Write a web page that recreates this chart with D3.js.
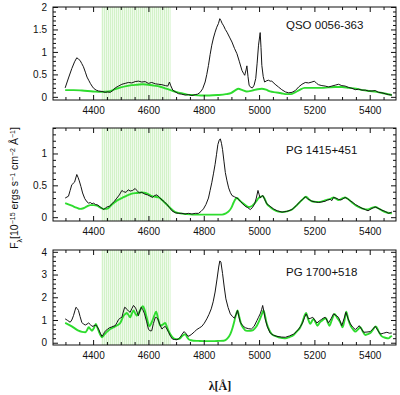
<!DOCTYPE html>
<html>
<head>
<meta charset="utf-8">
<script src="https://cdn.jsdelivr.net/npm/d3@7"></script>
<style>
  body { margin: 0; background: #fff; }
  text { font-family: "Liberation Sans", Arial, sans-serif; fill: #111; }
</style>
</head>
<body>
<svg id="chart" width="400" height="395"></svg>
<script>
// wavelength range of the Fe II fitting window (shaded)
const fitWindow = [4430, 4680];
const waveDomain = [4255, 5495];
const waveTicks = [4400, 4600, 4800, 5000, 5200, 5400];

const names = ["QSO 0056-363", "PG 1415+451", "PG 1700+518"];
const yDomains = [[-0.07, 2.0], [-0.06, 1.40], [-0.1, 4.08]];
const yTicks = [[0, 0.5, 1, 1.5, 2], [0, 0.5, 1], [0, 1, 2, 3, 4]];
const yMinorSteps = [0.1, 0.1, 0.2];

// observed spectra [wavelength, flux]
const qsoObs = [[4299,0.20],[4311,0.42],[4323,0.63],[4333,0.78],[4341,0.87],[4347,0.84],[4353,0.81],[4359,0.74],[4365,0.67],[4372,0.55],[4378,0.44],[4384,0.37],[4390,0.30],[4396,0.24],[4402,0.19],[4411,0.15],[4420,0.13],[4432,0.12],[4444,0.10],[4453,0.11],[4462,0.10],[4471,0.14],[4480,0.20],[4492,0.24],[4504,0.28],[4516,0.30],[4528,0.32],[4540,0.31],[4552,0.34],[4564,0.35],[4576,0.33],[4588,0.34],[4600,0.30],[4612,0.32],[4625,0.29],[4637,0.28],[4649,0.27],[4661,0.25],[4670,0.24],[4676,0.33],[4680,0.26],[4688,0.15],[4700,0.10],[4709,0.07],[4720,0.06],[4733,0.04],[4745,0.05],[4757,0.03],[4769,0.05],[4778,0.06],[4787,0.10],[4796,0.18],[4805,0.33],[4811,0.50],[4817,0.70],[4823,0.94],[4829,1.15],[4835,1.31],[4841,1.44],[4847,1.55],[4853,1.63],[4858,1.74],[4862,1.70],[4866,1.64],[4872,1.58],[4878,1.50],[4884,1.44],[4893,1.33],[4902,1.22],[4911,1.08],[4920,0.96],[4929,0.78],[4938,0.59],[4944,0.52],[4948,0.48],[4953,0.60],[4956,0.69],[4960,0.45],[4964,0.26],[4970,0.21],[4976,0.20],[4982,0.26],[4988,0.41],[4993,0.75],[4998,1.15],[5004,1.43],[5007,1.10],[5010,0.70],[5015,0.45],[5020,0.33],[5028,0.36],[5034,0.37],[5040,0.35],[5046,0.35],[5058,0.28],[5070,0.22],[5082,0.16],[5095,0.11],[5107,0.09],[5119,0.10],[5131,0.14],[5143,0.22],[5155,0.28],[5167,0.32],[5179,0.31],[5191,0.33],[5200,0.35],[5208,0.30],[5215,0.27],[5227,0.25],[5239,0.24],[5251,0.22],[5263,0.24],[5275,0.26],[5287,0.28],[5299,0.25],[5311,0.24],[5323,0.21],[5336,0.19],[5348,0.16],[5360,0.17],[5372,0.15],[5384,0.15],[5396,0.13],[5408,0.13],[5420,0.14],[5432,0.10],[5444,0.09],[5456,0.07],[5468,0.05],[5480,0.04]];
const pg1415Obs = [[4299,0.30],[4311,0.33],[4317,0.42],[4323,0.51],[4333,0.55],[4341,0.67],[4346,0.62],[4350,0.57],[4356,0.48],[4362,0.38],[4370,0.29],[4378,0.24],[4384,0.22],[4390,0.23],[4396,0.21],[4402,0.22],[4408,0.20],[4417,0.19],[4426,0.16],[4432,0.14],[4438,0.12],[4444,0.14],[4450,0.16],[4459,0.17],[4468,0.21],[4477,0.25],[4486,0.30],[4495,0.35],[4504,0.42],[4510,0.40],[4519,0.39],[4527,0.43],[4534,0.41],[4543,0.42],[4552,0.45],[4558,0.42],[4567,0.38],[4576,0.39],[4588,0.36],[4597,0.35],[4606,0.33],[4615,0.31],[4622,0.34],[4631,0.35],[4640,0.31],[4649,0.27],[4658,0.24],[4667,0.20],[4676,0.15],[4685,0.10],[4697,0.07],[4709,0.06],[4721,0.06],[4733,0.05],[4745,0.06],[4757,0.05],[4769,0.06],[4781,0.06],[4790,0.09],[4799,0.13],[4808,0.20],[4817,0.30],[4823,0.42],[4829,0.54],[4835,0.68],[4841,0.83],[4846,0.98],[4851,1.14],[4856,1.21],[4860,1.23],[4864,1.16],[4868,1.06],[4873,0.88],[4878,0.70],[4884,0.57],[4890,0.46],[4896,0.39],[4902,0.34],[4911,0.32],[4920,0.30],[4926,0.28],[4932,0.25],[4941,0.21],[4950,0.17],[4959,0.15],[4968,0.12],[4976,0.15],[4984,0.21],[4990,0.30],[4996,0.42],[5000,0.36],[5004,0.30],[5009,0.33],[5014,0.34],[5020,0.28],[5028,0.21],[5040,0.17],[5052,0.13],[5066,0.10],[5083,0.08],[5100,0.09],[5119,0.12],[5134,0.18],[5149,0.25],[5158,0.28],[5167,0.32],[5175,0.29],[5184,0.27],[5191,0.25],[5203,0.24],[5215,0.23],[5227,0.24],[5239,0.25],[5248,0.27],[5257,0.28],[5263,0.26],[5269,0.31],[5278,0.30],[5287,0.28],[5296,0.27],[5304,0.29],[5311,0.31],[5320,0.29],[5328,0.26],[5336,0.24],[5348,0.20],[5360,0.17],[5372,0.14],[5384,0.12],[5394,0.10],[5405,0.13],[5414,0.15],[5420,0.16],[5430,0.14],[5444,0.11],[5456,0.09],[5468,0.06],[5480,0.08]];
const pg1700Obs = [[4299,1.05],[4308,0.98],[4317,0.90],[4323,1.00],[4329,1.19],[4334,1.40],[4338,1.56],[4343,1.50],[4347,1.42],[4353,1.15],[4359,0.90],[4365,0.82],[4372,0.78],[4378,0.82],[4384,0.87],[4390,0.80],[4396,0.72],[4403,0.74],[4410,0.78],[4415,0.70],[4420,0.60],[4426,0.42],[4432,0.28],[4437,0.36],[4441,0.46],[4447,0.55],[4453,0.60],[4459,0.66],[4465,0.68],[4472,0.72],[4480,0.75],[4486,0.88],[4492,1.02],[4498,1.08],[4504,1.12],[4509,1.35],[4514,1.56],[4519,1.52],[4523,1.46],[4529,1.38],[4534,1.34],[4540,1.50],[4546,1.64],[4551,1.57],[4555,1.49],[4560,1.32],[4564,1.19],[4569,1.40],[4574,1.56],[4580,1.45],[4586,1.27],[4593,0.95],[4600,0.60],[4606,0.52],[4612,0.53],[4618,0.85],[4625,1.12],[4630,1.10],[4634,1.05],[4641,0.80],[4649,0.60],[4655,0.68],[4661,0.72],[4667,0.60],[4673,0.46],[4680,0.28],[4687,0.16],[4695,0.14],[4703,0.13],[4709,0.18],[4715,0.24],[4722,0.38],[4729,0.49],[4736,0.40],[4743,0.28],[4750,0.32],[4757,0.38],[4766,0.48],[4775,0.58],[4784,0.65],[4793,0.72],[4802,0.86],[4811,1.05],[4819,1.25],[4827,1.49],[4834,1.80],[4841,2.23],[4848,2.80],[4854,3.33],[4858,3.60],[4862,3.55],[4868,3.04],[4874,2.45],[4880,1.93],[4888,1.55],[4896,1.27],[4904,1.15],[4911,1.08],[4917,1.25],[4922,1.42],[4927,1.15],[4932,0.90],[4941,0.75],[4950,0.66],[4961,0.62],[4972,0.60],[4982,0.72],[4992,0.97],[4998,1.12],[5004,1.27],[5009,1.45],[5013,1.64],[5017,1.40],[5022,1.05],[5030,0.70],[5040,0.43],[5052,0.33],[5064,0.28],[5080,0.25],[5095,0.24],[5110,0.30],[5125,0.38],[5134,0.48],[5143,0.60],[5150,0.72],[5157,0.87],[5164,1.10],[5170,1.27],[5175,1.15],[5179,1.05],[5187,1.08],[5194,1.12],[5201,1.00],[5209,0.87],[5217,0.95],[5225,1.02],[5232,1.08],[5239,1.12],[5245,1.00],[5251,0.87],[5260,1.05],[5269,1.27],[5278,1.20],[5287,1.12],[5293,0.95],[5299,0.75],[5307,1.05],[5314,1.34],[5322,1.05],[5330,0.83],[5339,0.68],[5348,0.58],[5355,0.66],[5362,0.75],[5370,0.60],[5378,0.46],[5390,0.47],[5402,0.49],[5411,0.60],[5420,0.72],[5429,0.55],[5438,0.38],[5450,0.42],[5462,0.46],[5471,0.42],[5480,0.43]];

// Fe II template fits [wavelength, flux]
const qsoFe = [[4299,0.15],[4330,0.15],[4360,0.14],[4400,0.12],[4430,0.11],[4455,0.12],[4480,0.17],[4500,0.21],[4520,0.24],[4540,0.26],[4560,0.27],[4580,0.28],[4600,0.27],[4620,0.25],[4640,0.23],[4660,0.19],[4680,0.15],[4700,0.11],[4720,0.08],[4740,0.05],[4760,0.04],[4790,0.03],[4820,0.03],[4850,0.04],[4880,0.06],[4900,0.09],[4915,0.15],[4925,0.18],[4940,0.15],[4955,0.12],[4975,0.14],[4995,0.17],[5010,0.18],[5025,0.16],[5040,0.12],[5060,0.10],[5080,0.08],[5100,0.06],[5115,0.06],[5130,0.10],[5145,0.15],[5165,0.20],[5185,0.20],[5200,0.20],[5225,0.20],[5250,0.21],[5275,0.22],[5300,0.22],[5325,0.20],[5350,0.18],[5375,0.15],[5400,0.13],[5425,0.11],[5450,0.08],[5480,0.04]];
const pg1415Fe = [[4299,0.22],[4323,0.18],[4340,0.15],[4353,0.13],[4365,0.14],[4378,0.17],[4390,0.19],[4402,0.19],[4414,0.18],[4426,0.15],[4438,0.13],[4450,0.13],[4468,0.20],[4486,0.26],[4504,0.30],[4522,0.34],[4540,0.37],[4558,0.38],[4576,0.39],[4590,0.38],[4600,0.36],[4613,0.33],[4625,0.32],[4637,0.31],[4649,0.27],[4661,0.22],[4673,0.17],[4685,0.12],[4697,0.08],[4715,0.06],[4733,0.05],[4760,0.04],[4790,0.04],[4829,0.04],[4866,0.04],[4880,0.06],[4890,0.09],[4900,0.15],[4908,0.23],[4914,0.28],[4920,0.30],[4928,0.27],[4938,0.23],[4950,0.19],[4962,0.16],[4972,0.17],[4980,0.20],[4990,0.25],[4998,0.30],[5006,0.32],[5013,0.33],[5020,0.29],[5028,0.21],[5040,0.16],[5052,0.12],[5066,0.09],[5083,0.08],[5100,0.09],[5119,0.12],[5137,0.19],[5155,0.27],[5170,0.32],[5180,0.28],[5191,0.25],[5206,0.24],[5221,0.24],[5236,0.26],[5251,0.28],[5260,0.29],[5269,0.31],[5278,0.29],[5287,0.27],[5299,0.29],[5311,0.31],[5323,0.28],[5336,0.23],[5351,0.18],[5366,0.15],[5378,0.13],[5390,0.12],[5405,0.14],[5420,0.16],[5435,0.13],[5450,0.09],[5465,0.07],[5480,0.06]];
const pg1700Fe = [[4299,0.87],[4311,0.80],[4323,0.72],[4335,0.62],[4347,0.53],[4360,0.48],[4372,0.46],[4378,0.55],[4384,0.68],[4390,0.60],[4396,0.53],[4403,0.65],[4410,0.83],[4416,0.65],[4422,0.46],[4427,0.33],[4432,0.24],[4439,0.33],[4446,0.43],[4454,0.52],[4462,0.60],[4471,0.66],[4480,0.72],[4489,0.78],[4498,0.87],[4504,1.02],[4510,1.19],[4516,1.26],[4522,1.31],[4528,1.22],[4534,1.12],[4540,1.28],[4546,1.42],[4552,1.30],[4558,1.19],[4564,1.30],[4570,1.42],[4575,1.55],[4580,1.61],[4586,1.45],[4592,1.19],[4598,0.90],[4604,0.72],[4611,0.88],[4619,1.12],[4624,1.28],[4628,1.37],[4635,1.05],[4643,0.75],[4652,0.80],[4661,0.87],[4668,0.65],[4675,0.46],[4683,0.30],[4691,0.19],[4700,0.16],[4709,0.16],[4715,0.20],[4721,0.28],[4727,0.34],[4733,0.38],[4739,0.26],[4745,0.16],[4754,0.11],[4763,0.09],[4780,0.08],[4800,0.07],[4829,0.07],[4855,0.08],[4872,0.09],[4885,0.18],[4896,0.38],[4904,0.65],[4911,0.97],[4917,1.25],[4922,1.42],[4928,1.15],[4935,0.83],[4943,0.65],[4952,0.53],[4963,0.52],[4974,0.53],[4984,0.62],[4992,0.75],[5000,0.95],[5008,1.19],[5016,1.42],[5022,1.15],[5028,0.83],[5037,0.55],[5046,0.38],[5058,0.30],[5070,0.24],[5083,0.21],[5095,0.19],[5110,0.25],[5125,0.34],[5137,0.50],[5149,0.68],[5158,0.95],[5164,1.18],[5170,1.31],[5177,1.05],[5185,0.83],[5191,0.95],[5197,1.05],[5204,0.90],[5211,0.75],[5219,0.88],[5227,0.97],[5235,1.05],[5242,1.08],[5248,0.90],[5254,0.75],[5263,1.00],[5273,1.27],[5282,1.10],[5290,0.97],[5296,0.82],[5302,0.68],[5309,1.00],[5315,1.37],[5323,1.00],[5332,0.72],[5340,0.58],[5348,0.49],[5357,0.58],[5366,0.68],[5375,0.50],[5384,0.34],[5393,0.38],[5402,0.43],[5412,0.58],[5422,0.72],[5432,0.50],[5444,0.28],[5456,0.22],[5468,0.19],[5474,0.25],[5480,0.31]];

const observed = [qsoObs, pg1415Obs, pg1700Obs];
const templates = [qsoFe, pg1415Fe, pg1700Fe];

// layout of the three stacked panels (pixels)
const panelBox = [
  { top: 7, bottom: 100, titleDy: 22 },
  { top: 128, bottom: 221, titleDy: 26 },
  { top: 250, bottom: 345, titleDy: 26 }
];

const svg = d3.select("#chart");
const x = d3.scaleLinear().domain(waveDomain).range([53, 396]);
const xMinor = d3.range(4300, 5495, 50).filter(v => !waveTicks.includes(v));

const defs = svg.append("defs");
const hatch = defs.append("pattern")
  .attr("id", "hatch")
  .attr("patternUnits", "userSpaceOnUse")
  .attr("width", 2).attr("height", 4);
hatch.append("rect").attr("width", 2).attr("height", 4).attr("fill", "#eefbea");
hatch.append("rect").attr("width", 1).attr("height", 4).attr("fill", "#d3f2c9");

const fmt = d => d3.format("~g")(d);

panelBox.forEach((box, i) => {
  const y = d3.scaleLinear().domain(yDomains[i]).range([box.bottom, box.top]);
  const g = svg.append("g");

  defs.append("clipPath").attr("id", `clip${i}`)
    .append("rect")
    .attr("x", x.range()[0]).attr("y", box.top)
    .attr("width", x.range()[1] - x.range()[0])
    .attr("height", box.bottom - box.top);

  // shaded fit window
  g.append("rect")
    .attr("x", x(fitWindow[0]))
    .attr("width", x(fitWindow[1]) - x(fitWindow[0]))
    .attr("y", box.top)
    .attr("height", box.bottom - box.top)
    .attr("fill", "url(#hatch)");

  const line = d3.line().x(d => x(d[0])).y(d => y(d[1]));

  g.append("path")
    .datum(templates[i])
    .attr("clip-path", `url(#clip${i})`)
    .attr("d", line.curve(d3.curveMonotoneX))
    .attr("fill", "none")
    .attr("stroke", "#2edc2e")
    .attr("stroke-width", 1.9);

  g.append("path")
    .datum(observed[i])
    .attr("clip-path", `url(#clip${i})`)
    .attr("d", line.curve(d3.curveLinear))
    .attr("fill", "none")
    .attr("stroke", "#151515")
    .attr("stroke-width", 1);

  const yMinor = d3.range(0, yDomains[i][1] + 1e-9, yMinorSteps[i])
    .filter(v => !yTicks[i].some(t => Math.abs(t - v) < 1e-6));

  //axes with inward ticks on all four sides
  const axes = [
    [d3.axisBottom(x).tickValues(waveTicks).tickSize(-5).tickPadding(7).tickFormat(fmt), `translate(0,${box.bottom})`],
    [d3.axisBottom(x).tickValues(xMinor).tickSize(-3).tickFormat(""), `translate(0,${box.bottom})`],
    [d3.axisTop(x).tickValues(waveTicks).tickSize(-5).tickFormat(""), `translate(0,${box.top})`],
    [d3.axisTop(x).tickValues(xMinor).tickSize(-3).tickFormat(""), `translate(0,${box.top})`],
    [d3.axisLeft(y).tickValues(yTicks[i]).tickSize(-5).tickPadding(6).tickFormat(fmt), `translate(${x.range()[0]},0)`],
    [d3.axisLeft(y).tickValues(yMinor).tickSize(-3).tickFormat(""), `translate(${x.range()[0]},0)`],
    [d3.axisRight(y).tickValues(yTicks[i]).tickSize(-5).tickFormat(""), `translate(${x.range()[1]},0)`],
    [d3.axisRight(y).tickValues(yMinor).tickSize(-3).tickFormat(""), `translate(${x.range()[1]},0)`]
  ];
  axes.forEach(([ax, tr]) => {
    const a = g.append("g").attr("transform", tr).call(ax);
    a.select(".domain").remove();
    a.selectAll("line").attr("stroke", "#111");
    a.selectAll("text").attr("font-size", 10).attr("fill", "#111")
      .style("font-family", "'Liberation Sans', Arial, sans-serif");
  });

  g.append("rect")
    .attr("x", x.range()[0]).attr("y", box.top)
    .attr("width", x.range()[1] - x.range()[0])
    .attr("height", box.bottom - box.top)
    .attr("fill", "none")
    .attr("stroke", "#111")
    .attr("stroke-width", 1);

  g.append("text")
    .attr("x", 286)
    .attr("y", box.top + box.titleDy)
    .attr("font-size", 11.5)
    .text(names[i]);
});

// y axis title
const yl = svg.append("text")
  .attr("transform", "translate(18,188) rotate(-90)")
  .attr("text-anchor", "middle")
  .attr("font-size", 10.5);
yl.append("tspan").text("F");
yl.append("tspan").attr("baseline-shift", "sub").attr("font-size", 7).text("λ");
yl.append("tspan").text("[10");
yl.append("tspan").attr("baseline-shift", "super").attr("font-size", 7).text("−15");
yl.append("tspan").text(" ergs s");
yl.append("tspan").attr("baseline-shift", "super").attr("font-size", 7).text("−1");
yl.append("tspan").text(" cm");
yl.append("tspan").attr("baseline-shift", "super").attr("font-size", 7).text("−2");
yl.append("tspan").text(" Å");
yl.append("tspan").attr("baseline-shift", "super").attr("font-size", 7).text("−1");
yl.append("tspan").text("]");

// x axis title
svg.append("text")
  .attr("x", 220)
  .attr("y", 390)
  .attr("text-anchor", "middle")
  .attr("font-size", 12)
  .style("font-family", "'Liberation Serif', 'DejaVu Serif', serif")
  .style("font-weight", "bold")
  .text("λ[Å]");
</script>
</body>
</html>
